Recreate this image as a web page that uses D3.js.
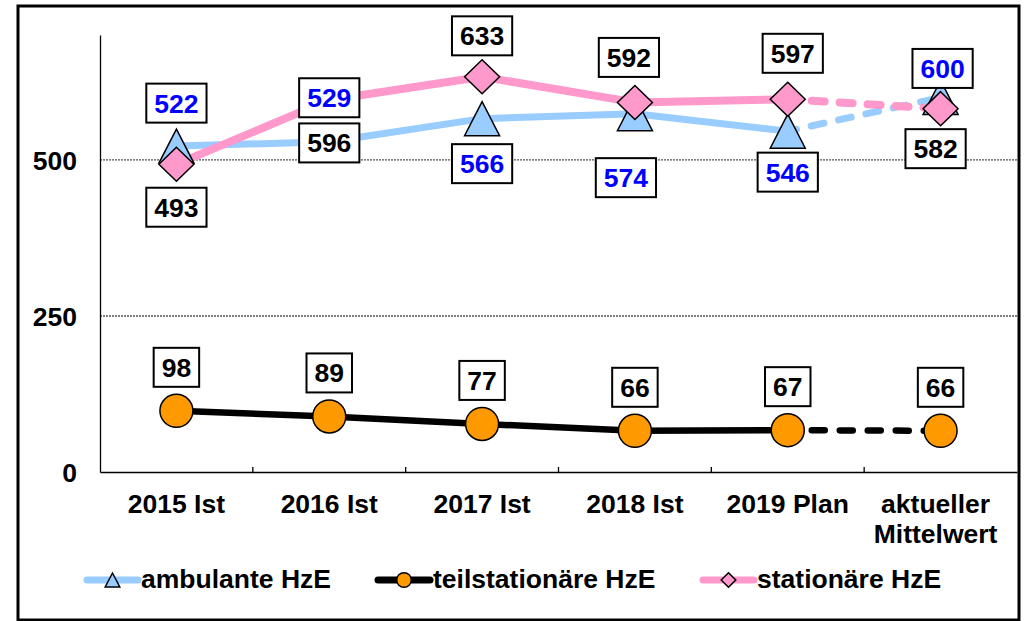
<!DOCTYPE html>
<html>
<head>
<meta charset="utf-8">
<script src="https://cdn.jsdelivr.net/npm/d3@7"></script>
<style>
  html, body { margin: 0; padding: 0; background: #fff; }
  svg { display: block; font-family: "Liberation Sans", Arial, sans-serif; font-weight: bold; }
</style>
</head>
<body>
<svg id="chart" width="1025" height="621"></svg>
<script>
// ---- data ----
const categories = ["2015 Ist", "2016 Ist", "2017 Ist", "2018 Ist", "2019 Plan", "aktueller Mittelwert"];
const ambulante = [522, 529, 566, 574, 546, 600];
const teilstationaer = [98, 89, 77, 66, 67, 66];
const stationaer = [493, 596, 633, 592, 597, 582];
const yTicks = [0, 250, 500];
const seriesNames = ["ambulante HzE", "teilstationäre HzE", "stationäre HzE"];

// ---- layout (label placement offsets in px, not data) ----
const ambLabelDy = [-43, -44, 45, 64, 41, -29];
const ambLabelDx = [0, 0, 0, -9, 0, 2];
const statLabelDy = [43, 43, -41, -45, -46, 40];
const statLabelDx = [0, 0, 0, -6, 5, -5];
const teilLabelDy = [-43.5, -43.5, -43.5, -43.5, -43.5, -43.5];

const W = 1025, H = 621;
const plot = { left: 100, right: 1017, top: 35, bottom: 472 };
const FS = 26.5;

const svg = d3.select("#chart");

// outer frame
svg.append("rect").attr("x", 18).attr("y", 6).attr("width", 1001).attr("height", 614)
  .attr("fill", "#fff").attr("stroke", "#000").attr("stroke-width", 3);

const x = d3.scaleBand().domain(categories).range([plot.left, plot.right]).padding(0);
const y = d3.scaleLinear().domain([0, 700]).range([plot.bottom, plot.top]);
const cx = c => x(c) + x.bandwidth() / 2;

// gridlines
svg.append("g").selectAll("line").data(yTicks.filter(t => t > 0)).join("line")
  .attr("x1", plot.left).attr("x2", plot.right)
  .attr("y1", d => y(d)).attr("y2", d => y(d))
  .attr("stroke", "#555").attr("stroke-width", 1.4).attr("stroke-dasharray", "2,1");

// y axis
const yAxis = svg.append("g").attr("transform", `translate(${plot.left},0)`)
  .call(d3.axisLeft(y).tickValues(yTicks).tickSize(0).tickPadding(23));
yAxis.select(".domain").attr("stroke", "#000").attr("stroke-width", 1.3);
yAxis.selectAll("text").attr("font-size", FS).attr("font-family", "Liberation Sans, Arial, sans-serif")
  .attr("font-weight", "bold").attr("fill", "#000").attr("dy", "0.36em");

// x axis
const xAxis = svg.append("g").attr("transform", `translate(0,${plot.bottom})`)
  .call(d3.axisBottom(x).tickSize(0).tickPadding(0));
xAxis.select(".domain").attr("stroke", "#000").attr("stroke-width", 1.3);
xAxis.selectAll(".tick text").each(function(d) {
  const t = d3.select(this);
  t.text(null).attr("font-size", FS).attr("font-family", "Liberation Sans, Arial, sans-serif")
    .attr("font-weight", "bold").attr("fill", "#000").attr("y", 0).attr("dy", null);
  const words = d === "aktueller Mittelwert" ? ["aktueller", "Mittelwert"] : [d];
  const shift = words.length > 1 ? -5 : 0;
  words.forEach((w, i) => t.append("tspan").attr("x", shift).attr("y", 41 + i * 30).text(w));
});
// boundary ticks (inward)
const bounds = categories.slice(1).map(c => x(c));
svg.append("g").selectAll("line").data(bounds).join("line")
  .attr("x1", d => d).attr("x2", d => d).attr("y1", plot.bottom).attr("y2", plot.bottom - 5)
  .attr("stroke", "#000").attr("stroke-width", 1.3);

// series
const colors = { amb: "#99ccff", teil: "#000000", stat: "#ff99cc", orange: "#ff9900" };
const series = [
  { key: "amb", values: ambulante, color: colors.amb, width: 7 },
  { key: "teil", values: teilstationaer, color: colors.teil, width: 6.5 },
  { key: "stat", values: stationaer, color: colors.stat, width: 8 }
];
const line = d3.line().x(d => cx(d.c)).y(d => y(d.v));
const gLines = svg.append("g");
series.forEach(s => {
  const pts = s.values.map((v, i) => ({ c: categories[i], v }));
  gLines.append("path").datum(pts.slice(0, 5)).attr("d", line)
    .attr("fill", "none").attr("stroke", s.color).attr("stroke-width", s.width)
    .attr("stroke-linejoin", "round");
  gLines.append("path").datum(pts.slice(4)).attr("d", line)
    .attr("fill", "none").attr("stroke", s.color).attr("stroke-width", s.width)
    .attr("stroke-linecap", "round").attr("stroke-dasharray", "13,15")
    .attr("stroke-dashoffset", -24);
});

// markers
const triPath = (h, w) => `M0,${-h}L${w},${h}L${-w},${h}Z`;
const diaPath = (h, w) => `M0,${-h}L${w},0L0,${h}L${-w},0Z`;
const gMarks = svg.append("g");
gMarks.selectAll(".tri").data(ambulante).join("path").attr("class", "tri")
  .attr("d", triPath(17, 17.5))
  .attr("transform", (d, i) => `translate(${cx(categories[i])},${y(d)})`)
  .attr("fill", colors.amb).attr("stroke", "#000").attr("stroke-width", 1.5);
gMarks.selectAll(".cir").data(teilstationaer).join("circle").attr("class", "cir")
  .attr("cx", (d, i) => cx(categories[i])).attr("cy", d => y(d)).attr("r", 16.5)
  .attr("fill", colors.orange).attr("stroke", "#000").attr("stroke-width", 1.5);
gMarks.selectAll(".dia").data(stationaer).join("path").attr("class", "dia")
  .attr("d", diaPath(17, 17.5))
  .attr("transform", (d, i) => `translate(${cx(categories[i])},${y(d)})`)
  .attr("fill", colors.stat).attr("stroke", "#000").attr("stroke-width", 1.5);

// data labels
const gLab = svg.append("g");
function addLabels(values, dxs, dys, textColor) {
  values.forEach((v, i) => {
    const px = cx(categories[i]) + dxs[i];
    const py = y(v) + dys[i];
    const g = gLab.append("g").attr("transform", `translate(${px},${py})`);
    const rect = g.append("rect");
    const t = g.append("text").attr("text-anchor", "middle").attr("dy", "0.36em")
      .attr("font-size", FS).attr("fill", textColor).text(v);
    const bw = t.node().getComputedTextLength() + 16;
    const bh = 39;
    rect.attr("x", -bw / 2).attr("y", -bh / 2).attr("width", bw).attr("height", bh)
      .attr("fill", "#fff").attr("stroke", "#000").attr("stroke-width", 2);
  });
}
addLabels(ambulante, ambLabelDx, ambLabelDy, "#0000ff");
addLabels(teilstationaer, [0,0,0,0,0,0], teilLabelDy, "#000");
addLabels(stationaer, statLabelDx, statLabelDy, "#000");

// legend
const legendY = 580;
const legendItems = [
  { name: seriesNames[0], color: colors.amb, x1: 87, x2: 138, tx: 141, marker: "tri", width: 7 },
  { name: seriesNames[1], color: colors.teil, x1: 378, x2: 430, tx: 433, marker: "cir", width: 7 },
  { name: seriesNames[2], color: colors.stat, x1: 703, x2: 754, tx: 757, marker: "dia", width: 7 }
];
const gLeg = svg.append("g");
legendItems.forEach(it => {
  gLeg.append("line").attr("x1", it.x1).attr("x2", it.x2).attr("y1", legendY).attr("y2", legendY)
    .attr("stroke", it.color).attr("stroke-width", it.width).attr("stroke-linecap", "round");
  const mx = (it.x1 + it.x2) / 2;
  if (it.marker === "tri") {
    gLeg.append("path").attr("d", triPath(7, 7.3)).attr("transform", `translate(${mx},${legendY})`)
      .attr("fill", colors.amb).attr("stroke", "#000").attr("stroke-width", 1.5);
  } else if (it.marker === "cir") {
    gLeg.append("circle").attr("cx", mx).attr("cy", legendY).attr("r", 7.3)
      .attr("fill", colors.orange).attr("stroke", "#000").attr("stroke-width", 1.5);
  } else {
    gLeg.append("path").attr("d", diaPath(7.3, 7.3)).attr("transform", `translate(${mx},${legendY})`)
      .attr("fill", colors.stat).attr("stroke", "#000").attr("stroke-width", 1.5);
  }
  gLeg.append("text").attr("x", it.tx).attr("y", 588).attr("font-size", FS).attr("fill", "#000").text(it.name);
});
</script>
</body>
</html>
